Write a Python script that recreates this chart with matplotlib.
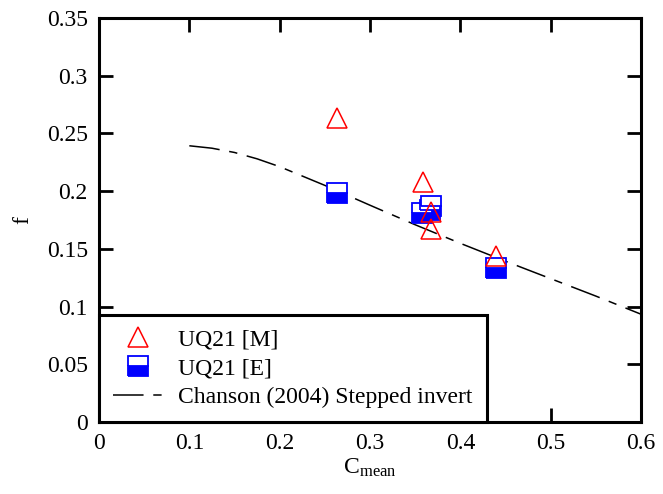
import matplotlib
matplotlib.use("Agg")
import matplotlib.pyplot as plt

# UQ21 measurements [M] and estimates [E]
m_c = [0.263, 0.359, 0.368, 0.368, 0.440]
m_f = [0.263, 0.208, 0.182, 0.167, 0.144]
e_c = [0.263, 0.358, 0.366, 0.368, 0.440]
e_f = [0.198, 0.181, 0.184, 0.187, 0.133]

# Chanson (2004) stepped invert curve
ch_c = [0.10, 0.125, 0.15, 0.175, 0.20, 0.25, 0.30, 0.35, 0.40, 0.45, 0.50, 0.55, 0.60]
ch_f = [0.2393, 0.2372, 0.2335, 0.2280, 0.2212, 0.2050, 0.1878, 0.1709, 0.1548,
        0.1393, 0.1242, 0.1091, 0.0934]

x_ticks = [0, 0.1, 0.2, 0.3, 0.4, 0.5, 0.6]
y_ticks = [0, 0.05, 0.1, 0.15, 0.2, 0.25, 0.3, 0.35]

plt.rcParams["font.family"] = ["Liberation Serif", "DejaVu Serif"]
plt.rcParams["font.size"] = 17
plt.rcParams["mathtext.fontset"] = "stix"
plt.rcParams["lines.scale_dashes"] = False

fig = plt.figure(figsize=(6.63, 4.94), dpi=100)
ax = fig.add_axes([0.1493, 0.1457, 0.8175, 0.8179])

(sq,) = ax.plot(e_c, e_f, linestyle="none", marker="s", markersize=14.5,
                fillstyle="bottom", markerfacecolor="#0000ff",
                markerfacecoloralt="white", markeredgecolor="#0000ff",
                markeredgewidth=1.3, zorder=3, label="UQ21 [E]")
(tri,) = ax.plot(m_c, m_f, linestyle="none", marker="^", markersize=14.5,
                 markerfacecolor="none", markeredgecolor="#ff0000",
                 markeredgewidth=1.1, zorder=4, label="UQ21 [M]")
(ch,) = ax.plot(ch_c, ch_f, color="black", linewidth=1.1,
                dashes=(22, 7, 6, 7), zorder=2,
                label="Chanson (2004) Stepped invert")

ax.set_xlim(0, 0.6)
ax.set_ylim(0, 0.35)
ax.set_xticks(x_ticks)
ax.set_xticklabels(["0", "0.1", "0.2", "0.3", "0.4", "0.5", "0.6"])
ax.set_yticks(y_ticks)
ax.set_yticklabels(["0", "0.05", "0.1", "0.15", "0.2", "0.25", "0.3", "0.35"])
ax.tick_params(direction="in", length=10, width=2.0, top=True, right=True,
               labelsize=17, pad=8)
for s in ax.spines.values():
    s.set_linewidth(2.2)

ax.set_xlabel(r"C$_{\mathregular{mean}}$", labelpad=2)
ax.set_ylabel("f", labelpad=10)

leg = ax.legend(handles=[tri, sq, ch], loc="lower left",
                bbox_to_anchor=(0.0, 0.0), borderaxespad=0,
                fancybox=False, edgecolor="black", framealpha=1,
                handlelength=2.1, handletextpad=0.65, borderpad=0.6,
                labelspacing=0.3, fontsize=17)
leg.get_frame().set_linewidth(2.2)
leg.set_zorder(5)

fig.savefig("out.png", dpi=100)
